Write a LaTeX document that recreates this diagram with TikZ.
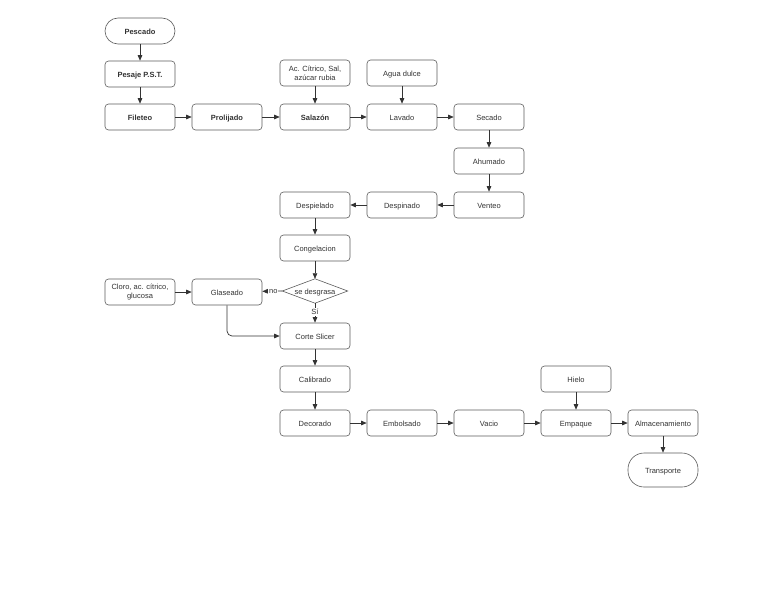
\documentclass[tikz,border=0pt]{standalone}
\usepackage{fontspec}
\setmainfont{Liberation Sans}
\usetikzlibrary{arrows.meta}
\definecolor{edgec}{HTML}{333333}
\definecolor{txtc}{HTML}{333333}
\begin{document}
\begin{tikzpicture}[x=1pt,y=-1pt,
  font=\fontsize{7.5}{8.8}\selectfont, text=txtc,
  basebox/.style={draw=edgec!80, line width=0.6pt, rounded corners=3.5pt, minimum width=70pt, minimum height=26pt, inner sep=1pt, align=center, fill=white},
  procbox/.style={basebox, text height=1.6ex, text depth=0.4ex},
  twobox/.style={basebox},
  termbox/.style={procbox, rounded corners=13pt},
  bolded/.style={font=\fontsize{7.5}{8.8}\selectfont\bfseries},
  flow/.style={draw=edgec, line width=0.7pt, -{Triangle[length=5.5pt,width=4.5pt]}},
  lbl/.style={fill=white, inner sep=1pt, font=\fontsize{7.5}{8}\selectfont}
]
\useasboundingbox (0,0) rectangle (768,594);
% top
\node[termbox,bolded] (pesc) at (140,31) {Pescado};
\node[procbox,bolded] (pes) at (140,74) {Pesaje P.S.T.};
\node[procbox,bolded] (fil) at (140,117) {Fileteo};
\node[procbox,bolded] (pro) at (227,117) {Prolijado};
\node[procbox,bolded] (sal) at (315,117) {Salazón};
\node[twobox] (ac) at (315,73) {Ac. Cítrico, Sal,\\azúcar rubia};
\node[procbox] (agua) at (402,73) {Agua dulce};
\node[procbox] (lav) at (402,117) {Lavado};
\node[procbox] (sec) at (489,117) {Secado};
\node[procbox] (ahu) at (489,161) {Ahumado};
\node[procbox] (ven) at (489,205) {Venteo};
\node[procbox] (desp) at (402,205) {Despinado};
\node[procbox] (desl) at (315,205) {Despielado};
\node[procbox] (con) at (315,248) {Congelacion};
% decision
\node[minimum width=65pt, minimum height=24pt, inner sep=0pt, text height=1.6ex, text depth=0.4ex] (dec) at (315,291) {se desgrasa};
\draw[draw=edgec!80, line width=0.6pt] (dec.west) -- (dec.north) -- (dec.east) -- (dec.south) -- cycle;
\node[procbox] (gla) at (227,292) {Glaseado};
\node[twobox] (clo) at (140,292) {Cloro, ac. cítrico,\\glucosa};
\node[procbox] (cor) at (315,336) {Corte Slicer};
\node[procbox] (cal) at (315,379) {Calibrado};
\node[procbox] (dco) at (315,423) {Decorado};
\node[procbox] (emb) at (402,423) {Embolsado};
\node[procbox] (vac) at (489,423) {Vacio};
\node[procbox] (emp) at (576,423) {Empaque};
\node[procbox] (hie) at (576,379) {Hielo};
\node[procbox] (alm) at (663,423) {Almacenamiento};
\node[termbox, minimum height=34pt, rounded corners=16pt] (tra) at (663,470) {Transporte};
% connectors
\draw[flow] (pesc) -- (pes);
\draw[flow] (pes) -- (fil);
\draw[flow] (fil) -- (pro);
\draw[flow] (pro) -- (sal);
\draw[flow] (ac) -- (sal);
\draw[flow] (sal) -- (lav);
\draw[flow] (agua) -- (lav);
\draw[flow] (lav) -- (sec);
\draw[flow] (sec) -- (ahu);
\draw[flow] (ahu) -- (ven);
\draw[flow] (ven) -- (desp);
\draw[flow] (desp) -- (desl);
\draw[flow] (desl) -- (con);
\draw[flow] (con) -- (dec.north);
\draw[flow] (dec.west) -- node[lbl, pos=0.45]{no} (gla);
\draw[flow] (dec.south) -- node[lbl, pos=0.45]{Sí} (cor);
\draw[flow] (clo) -- (gla);
\draw[flow, rounded corners=5pt] (gla.south) |- (cor.west);
\draw[flow] (cor) -- (cal);
\draw[flow] (cal) -- (dco);
\draw[flow] (dco) -- (emb);
\draw[flow] (emb) -- (vac);
\draw[flow] (vac) -- (emp);
\draw[flow] (hie) -- (emp);
\draw[flow] (emp) -- (alm);
\draw[flow] (alm) -- (tra);
\end{tikzpicture}
\end{document}
